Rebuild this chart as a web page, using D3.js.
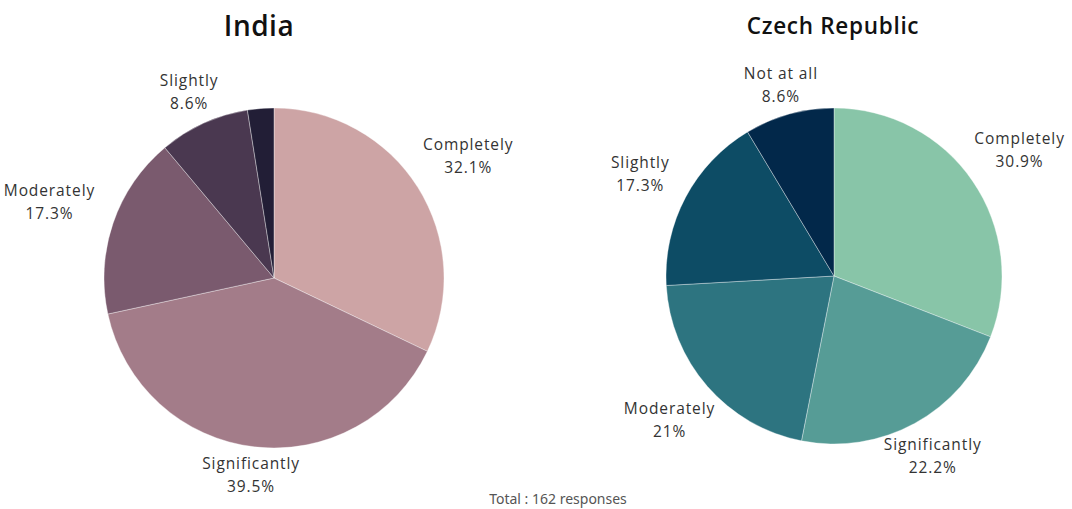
<!DOCTYPE html>
<html>
<head>
<meta charset="utf-8">
<script src="https://cdn.jsdelivr.net/npm/d3@7"></script>
<style>
  body { margin: 0; background: #fff; }
  svg text { font-family: "Open Sans", Lato, sans-serif; }
</style>
</head>
<body>
<div id="chart"></div>
<script>
// data
var categories = ["Completely", "Significantly", "Moderately", "Slightly", "Not at all"];
var indiaValues = [32.1, 39.5, 17.3, 8.6, 2.5];
var czechValues = [30.9, 22.2, 21, 17.3, 8.6];
var indiaColors = ["#cda4a5", "#a37c89", "#7a5a6e", "#4a3850", "#221e36"];
var czechColors = ["#88c5a8", "#569c96", "#2d7480", "#0d4c65", "#02284a"];
var indiaShown = [true, true, true, true, false];   // smallest slice has no label
var czechShown = [true, true, true, true, true];
var totalText = "Total : 162 responses";

var width = 1072, height = 509;

var svg = d3.select("#chart").append("svg")
    .attr("width", width)
    .attr("height", height);

function drawPie(opt){
    var g = svg.append("g")
        .attr("transform", "translate(" + opt.cx + "," + opt.cy + ")");

    var pie = d3.pie().sort(null).value(d => d.v);
    var arc = d3.arc().innerRadius(0).outerRadius(opt.r);

    var rows = categories.map((c, i) => ({c: c, v: opt.values[i], col: opt.colors[i], show: opt.shown[i]}));
    var arcs = pie(rows);

    g.selectAll("path")
        .data(arcs)
        .enter()
        .append("path")
        .attr("d", arc)
        .style("fill", d => d.data.col)
        .style("stroke", "rgba(255,255,255,0.6)")
        .style("stroke-width", 0.6);

    // labels, placed just outside the rim
    arcs.filter(d => d.data.show).forEach(function(d){
        var a = (d.startAngle + d.endAngle) / 2;
        var s = Math.sin(a), c = -Math.cos(a);
        var t = g.append("text")
            .attr("text-anchor", "middle")
            .attr("font-size", "15.5px")
            .attr("letter-spacing", "0.9px")
            .style("fill", "#333");
        t.append("tspan").attr("x", 0).attr("dy", 0).text(d.data.c);
        t.append("tspan").attr("x", 0).attr("dy", 23).text(d.data.v + "%");
        var bb = t.node().getBBox();
        var hw = bb.width / 2, hh = bb.height / 2;
        var tt = Math.min(Math.abs(s) > 1e-6 ? hw / Math.abs(s) : 1e9,
                          Math.abs(c) > 1e-6 ? hh / Math.abs(c) : 1e9);
        var rr = opt.r + 3 + 17 * Math.abs(s) + tt;
        var px = rr * s, py = rr * c;
        var ox = px - (bb.x + hw), oy = py - (bb.y + hh);
        t.attr("transform", "translate(" + ox + "," + oy + ")");
    });

    svg.append("text")
        .attr("x", opt.titleX)
        .attr("y", opt.titleY)
        .attr("text-anchor", "middle")
        .attr("font-size", opt.titleSize)
        .attr("font-weight", 600)
        .attr("letter-spacing", opt.titleSpacing)
        .style("fill", "#111")
        .text(opt.title);
}

drawPie({cx: 274, cy: 278, r: 170, values: indiaValues, colors: indiaColors, shown: indiaShown,
         title: "India", titleX: 259, titleY: 36, titleSize: "28px", titleSpacing: "0.5px"});
drawPie({cx: 834, cy: 276, r: 168, values: czechValues, colors: czechColors, shown: czechShown,
         title: "Czech Republic", titleX: 833, titleY: 34, titleSize: "22.5px", titleSpacing: "0.7px"});

svg.append("text")
    .attr("x", 558)
    .attr("y", 504)
    .attr("text-anchor", "middle")
    .attr("font-size", "14px")
    .style("font-family", "'Noto Sans', sans-serif")
    .style("fill", "#555")
    .text(totalText);
</script>
</body>
</html>
